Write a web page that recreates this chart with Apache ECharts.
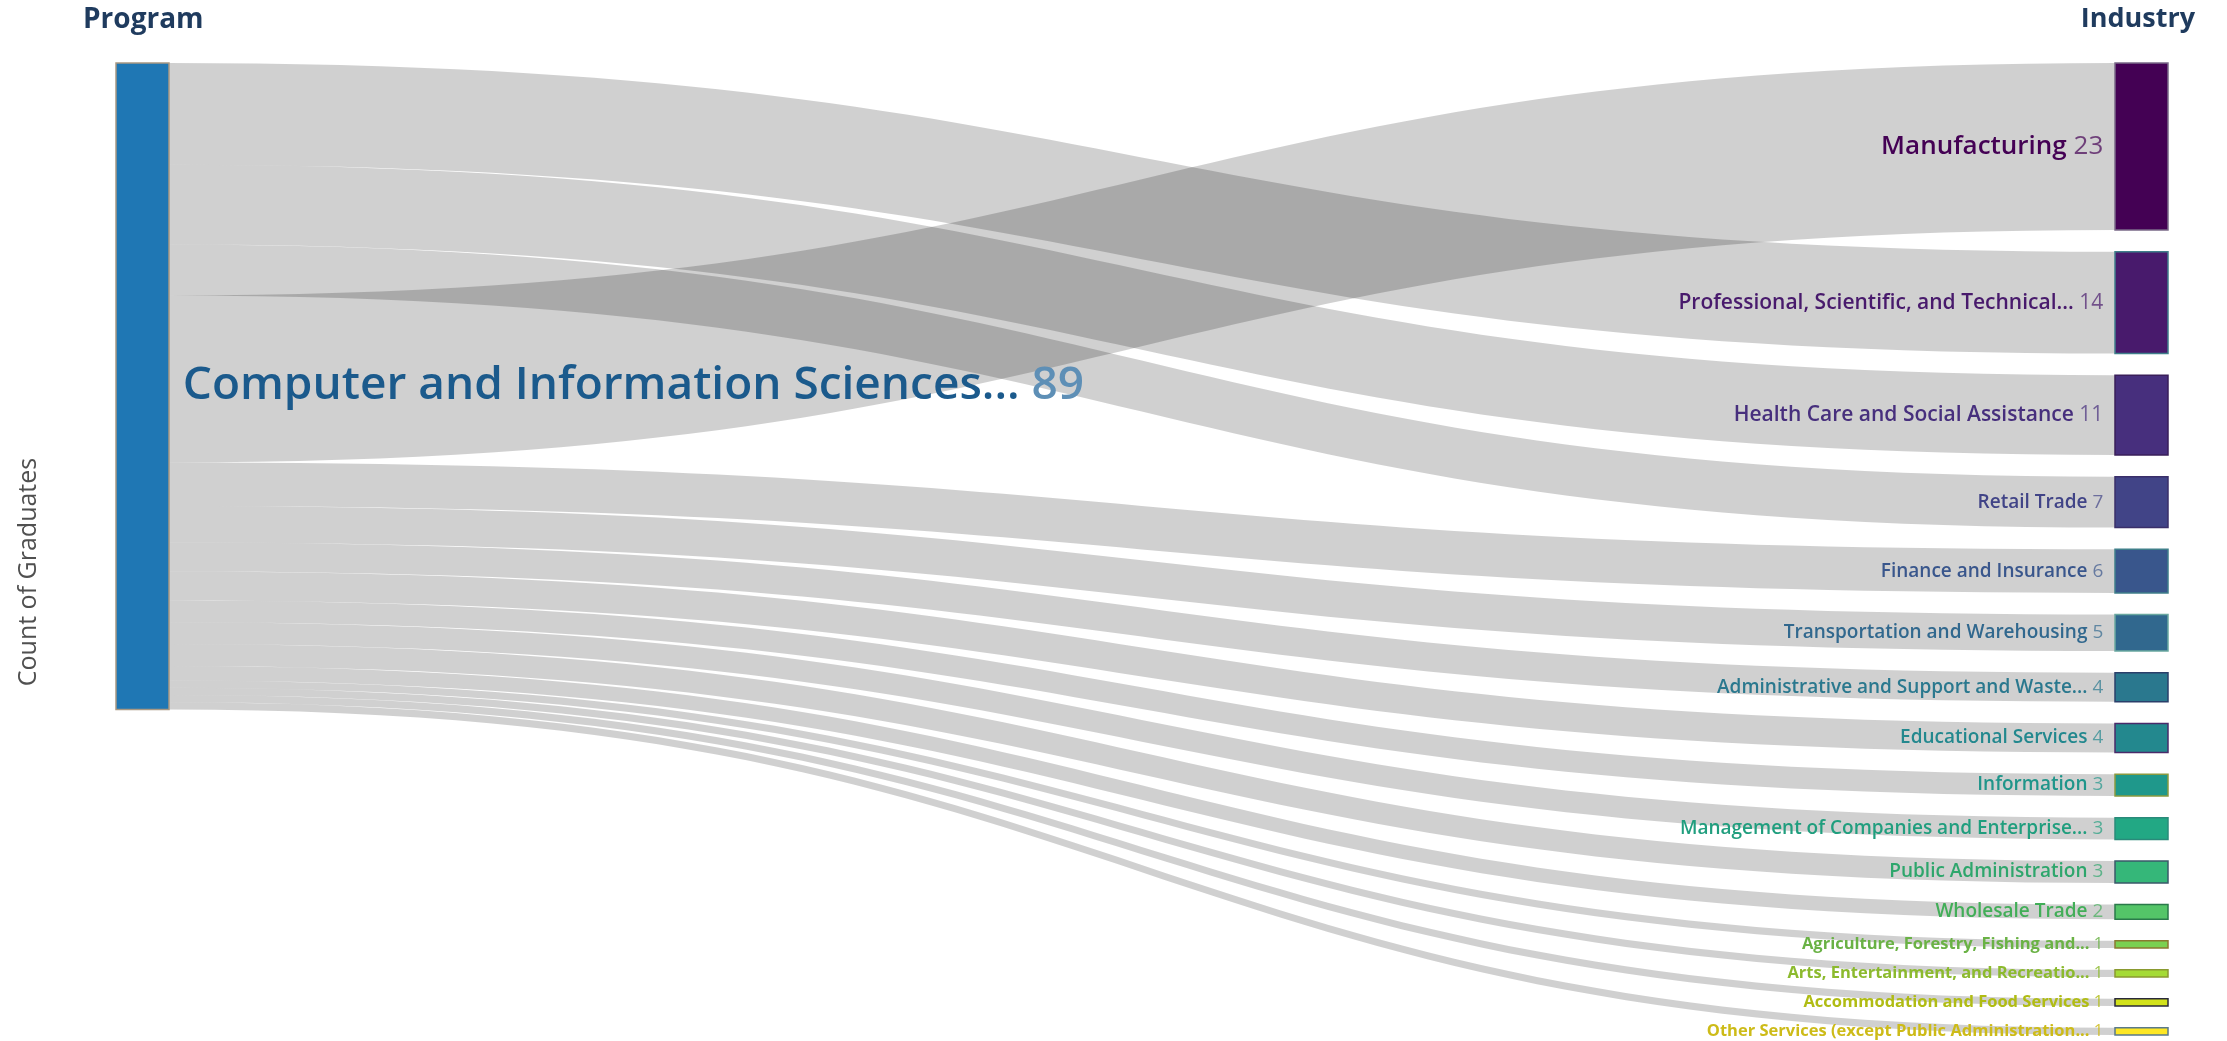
<!DOCTYPE html>
<html><head><meta charset="utf-8">
<script src="https://cdn.jsdelivr.net/npm/echarts@6/dist/echarts.min.js"></script>
<style>html,body{margin:0;padding:0;background:#fff}#c{width:2227px;height:1041px}</style>
</head><body><div id="c"></div>
<script>
// ---------------- data ----------------
const program = 'Computer and Information Sciences...';
const programTotal = 89;
const industries = [
  'Manufacturing',
  'Professional, Scientific, and Technical...',
  'Health Care and Social Assistance',
  'Retail Trade',
  'Finance and Insurance',
  'Transportation and Warehousing',
  'Administrative and Support and Waste...',
  'Educational Services',
  'Information',
  'Management of Companies and Enterprise...',
  'Public Administration',
  'Wholesale Trade',
  'Agriculture, Forestry, Fishing and...',
  'Arts, Entertainment, and Recreatio...',
  'Accommodation and Food Services',
  'Other Services (except Public Administration...'
];
const graduates = [23, 14, 11, 7, 6, 5, 4, 4, 3, 3, 3, 2, 1, 1, 1, 1];
// order in which the ribbons leave the Program node, top to bottom (indexes into industries)
const ribbonOrder = [1, 2, 3, 0, 4, 5, 6, 7, 8, 9, 10, 11, 12, 13, 14, 15];
const columnTitles = ['Program', 'Industry'];
const axisTitle = 'Count of Graduates';

// ---------------- styles ----------------
const FONT = "'Open Sans', 'Noto Sans', sans-serif";
const nodeColors = ['#440154','#481A6C','#472F7D','#414487','#39568C','#31688E','#2A788E','#23888E',
  '#1F988B','#22A884','#35B779','#54C568','#7AD151','#A5DB36','#D2E21B','#FDE725'];
const labelColors = ['#440154','#481A6C','#472F7D','#414487','#39568C','#31688E','#2A788E','#23888E',
  '#1F958A','#209E7E','#2EA66C','#42AE58','#6AB245','#8CBA2E','#B0BC14','#CDBB18'];
const borderColors = ['#7a6a88','#3f7f8a','#3a1f5a','#3a2f6a','#3f7f8a','#6aa8a0','#2a3f6a','#4a2a6a',
  '#8a9a40','#2a8a7a','#3a5a6a','#2a7a4a','#8a7a30','#8a9a30','#2a2a3a','#5a7a8a'];
const programColor = '#1F77B4';
function labelSize(v) { return v >= 20 ? 26 : (v >= 10 ? 21 : (v >= 2 ? 19 : 16.5)); }
function labelWeight(v) { return v >= 2 ? 600 : 'bold'; }

// layout box
const TOP = 63, BOTTOM = 6, LEFT = 116, RIGHT = 59, NODE_W = 53, GAP = 21.7;
const HEIGHT = 1041 - TOP - BOTTOM;

// ---------------- build ----------------
const splitAt = ribbonOrder.indexOf(0);             // ribbons drawn above the top node's ribbon
const upper = ribbonOrder.slice(0, splitAt);
const lower = ribbonOrder.slice(splitAt);
const upperSum = upper.reduce((s, i) => s + graduates[i], 0);
const lowerSum = lower.reduce((s, i) => s + graduates[i], 0);
// pixels per graduate in the industry column (the limiting one)
const ky = (HEIGHT - (industries.length - 1) * GAP) / programTotal;
// invisible offset node that pushes the second ribbon group down to where the first ends
const offsetValue = upperSum - GAP / ky;

const common = {
  type: 'sankey',
  left: LEFT, right: RIGHT, top: TOP, bottom: BOTTOM,
  nodeWidth: NODE_W, nodeGap: GAP,
  layoutIterations: 0, nodeAlign: 'left', draggable: false,
  emphasis: { disabled: true },
  lineStyle: { color: '#000', opacity: 0.185, curveness: 0.5 },
};

const visibleNodes = [{
  name: program, value: programTotal, depth: 0,
  itemStyle: { color: programColor, borderColor: '#a89883', borderWidth: 1.5 },
  label: {
    show: true, position: 'right', distance: 13,
    formatter: p => '{n|' + p.name + ' }{v|' + p.value + '}',
    rich: {
      n: { fontFamily: FONT, fontSize: 46, fontWeight: 600, color: '#1B5A8C' },
      v: { fontFamily: FONT, fontSize: 46, fontWeight: 600, color: '#5E8FB6' }
    }
  }
}].concat(industries.map((n, i) => ({
  name: n, value: graduates[i], depth: 1,
  itemStyle: { color: nodeColors[i], borderColor: borderColors[i], borderWidth: 1.5 },
  label: {
    show: true, position: 'left', distance: 11,
    formatter: p => '{n|' + p.name + ' }{v|' + p.value + '}',
    rich: {
      n: { fontFamily: FONT, fontSize: labelSize(graduates[i]), fontWeight: labelWeight(graduates[i]), color: labelColors[i] },
      v: { fontFamily: FONT, fontSize: labelSize(graduates[i]), fontWeight: 500, color: labelColors[i], opacity: graduates[i] >= 2 ? 0.7 : 0.85 }
    }
  }
})));

const hidden = { itemStyle: { opacity: 0 }, label: { show: false } };
const hiddenNodes = [
  Object.assign({ name: '__offset', value: offsetValue, depth: 0 }, hidden),
  Object.assign({ name: program, value: lowerSum, depth: 0 }, hidden)
].concat(industries.map((n, i) => Object.assign({ name: n, value: graduates[i], depth: 1 }, hidden)));

const series1 = Object.assign({}, common, {
  data: visibleNodes,
  links: upper.map(i => ({ source: program, target: industries[i], value: graduates[i] }))
});
const series2 = Object.assign({}, common, {
  silent: true,
  data: hiddenNodes,
  links: lower.map(i => ({ source: program, target: industries[i], value: graduates[i] }))
});

const chart = echarts.init(document.getElementById('c'));
chart.setOption({
  animation: false,
  backgroundColor: '#fff',
  title: [
    { text: columnTitles[0], left: 78, top: 1, textStyle: { fontFamily: FONT, fontSize: 28, fontWeight: 'bold', color: '#1F3B5E' } },
    { text: columnTitles[1], right: 27, top: 1, textStyle: { fontFamily: FONT, fontSize: 27, fontWeight: 'bold', color: '#1F3B5E' } }
  ],
  graphic: [{
    type: 'text', x: 29, y: 572, rotation: Math.PI / 2,
    style: { text: axisTitle, fontFamily: FONT, fontSize: 25, fill: '#505050', align: 'center', verticalAlign: 'middle' }
  }],
  series: [series1, series2]
});
</script></body></html>
